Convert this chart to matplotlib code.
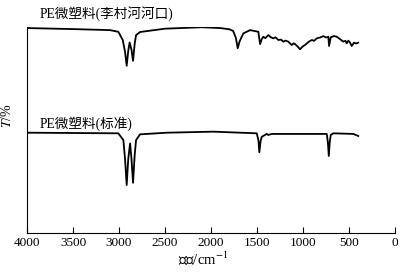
import matplotlib
matplotlib.use('Agg')
import matplotlib.pyplot as plt

plt.rcParams['font.family'] = ['Liberation Serif', 'Noto Sans CJK SC']
plt.rcParams['mathtext.fontset'] = 'stix'

# PE microplastic from the river mouth (upper trace)
wn_river = [4000, 3500, 3100, 3008, 2960, 2935, 2917, 2900, 2885, 2865, 2848,
            2830, 2815, 2770, 2500, 2100, 1900, 1800, 1760, 1730, 1710, 1690,
            1649, 1576, 1486, 1467, 1450, 1432, 1410, 1377, 1350, 1323, 1300,
            1268, 1240, 1214, 1190, 1160, 1140, 1123, 1100, 1087, 1060, 1033,
            1005, 978, 940, 905, 880, 851, 815, 779, 750, 725, 717, 699, 665,
            634, 600, 562, 540, 525, 508, 490, 471, 446, 425, 400]
t_river = [99.5, 99.0, 98.5, 97.7, 93.7, 88.0, 81.2, 88.5, 92.5, 89.0, 83.6,
           92.0, 96.1, 97.6, 99.2, 99.9, 99.5, 98.9, 98.1, 94.7, 89.7, 93.0,
           96.9, 98.5, 97.7, 91.7, 94.0, 95.3, 94.6, 96.1, 95.0, 94.5, 95.0,
           93.7, 93.9, 92.9, 93.4, 92.9, 92.0, 91.3, 92.1, 91.7, 90.6, 89.2,
           90.5, 91.3, 92.8, 93.7, 93.3, 94.5, 94.9, 95.6, 94.9, 95.3, 90.8,
           95.0, 95.6, 95.3, 94.2, 92.9, 93.3, 92.1, 93.4, 92.5, 90.8, 92.4,
           92.0, 92.4]

# PE standard (lower trace)
wn_std = [4000, 3008, 2953, 2935, 2917, 2900, 2880, 2865, 2848, 2830, 2815,
          2772, 2482, 1975, 1503, 1485, 1475, 1462, 1449, 1395, 1377, 1340,
          742, 730, 720, 710, 699, 670, 453, 400]
t_std = [48.7, 48.4, 45.1, 36.0, 23.3, 36.0, 43.5, 36.0, 24.4, 38.0, 45.1,
         47.9, 48.7, 49.2, 48.4, 45.0, 39.2, 44.5, 46.7, 48.1, 47.6, 48.1,
         48.1, 44.0, 37.4, 44.0, 47.6, 48.4, 48.1, 47.1]

labels = ['PE微塑料(李村河河口)', 'PE微塑料(标准)']
xticks = [4000, 3500, 3000, 2500, 2000, 1500, 1000, 500, 0]

fig = plt.figure(figsize=(4.1, 2.73), dpi=100)
ax = fig.add_axes([0.066, 0.1465, 0.8975, 0.7545])

ax.plot(wn_river, t_river, color='black', lw=1.3)
ax.plot(wn_std, t_std, color='black', lw=1.3)

ax.set_xlim(4000, 0)
ax.set_ylim(0, 100)
ax.set_xticks(xticks)
ax.set_xticklabels([str(v) for v in xticks])
ax.set_yticks([])
ax.tick_params(axis='x', direction='in', length=4, width=0.8, labelsize=9.5, pad=3)

for side in ['top', 'right']:
    ax.spines[side].set_visible(False)
for side in ['left', 'bottom']:
    ax.spines[side].set_linewidth(0.8)

ax.set_xlabel('波数/cm$^{-1}$', fontsize=10.5)
ax.xaxis.set_label_coords(0.478, -0.085)
ax.set_ylabel('$T$/%', fontsize=10)
ax.yaxis.set_label_coords(-0.035, 0.57)

ax.text(0.035, 1.065, labels[0], transform=ax.transAxes, fontsize=9.8, va='center')
ax.text(0.035, 0.53, labels[1], transform=ax.transAxes, fontsize=9.8, va='center')

fig.savefig('out.png', dpi=100)
